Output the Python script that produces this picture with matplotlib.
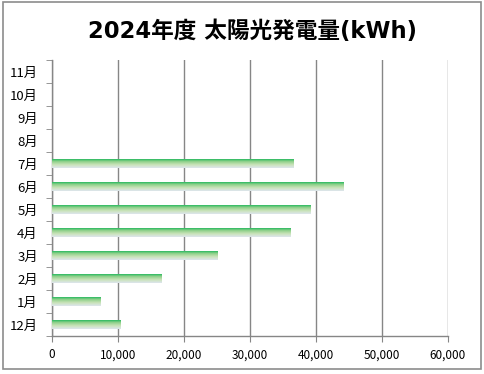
import numpy as np
import matplotlib
matplotlib.use("Agg")
import matplotlib.pyplot as plt
from matplotlib.colors import LinearSegmentedColormap
from matplotlib.patches import Rectangle
from matplotlib.ticker import FuncFormatter, FixedLocator

plt.rcParams["font.family"] = ["Noto Sans CJK JP", "DejaVu Sans"]

months = ["12月", "1月", "2月", "3月", "4月", "5月", "6月", "7月", "8月", "9月", "10月", "11月"]
kwh = [10340, 7310, 16550, 25130, 36180, 39110, 44060, 36490, 0, 0, 0, 0]
x_ticks = [0, 10000, 20000, 30000, 40000, 50000, 60000]

fig = plt.figure(figsize=(4.85, 3.74), dpi=100)
ax = fig.add_axes([51.7 / 485, 38 / 374, (448 - 51.7) / 485, (336 - 60) / 374])

# frame around the whole chart
fig.patches.append(Rectangle((3.5 / 485, 5 / 374), 477.5 / 485, 367 / 374,
                             transform=fig.transFigure, fill=False,
                             edgecolor="#8c8c8c", lw=1.2))

y = np.arange(len(months))
bars = ax.barh(y, kwh, height=0.42, color="none", edgecolor="none", zorder=3)

# vertical gradient inside each bar: green at top, pale at bottom
grad_cmap = LinearSegmentedColormap.from_list(
    "bar", ["#dde5ee", "#c9e3b8", "#8fd08a", "#00b050"])
grad = np.linspace(0, 1, 64).reshape(-1, 1)
for b in bars:
    if b.get_width() <= 0:
        continue
    x0, y0 = b.get_x(), b.get_y()
    im = ax.imshow(grad, cmap=grad_cmap, aspect="auto", origin="lower",
                   extent=(x0, x0 + b.get_width(), y0, y0 + b.get_height()),
                   zorder=3, interpolation="bilinear")
    im.set_clip_path(b)

ax.set_xlim(0, 60000)
ax.set_ylim(-0.5, len(months) - 0.5)

ax.xaxis.set_major_locator(FixedLocator(x_ticks))
ax.xaxis.set_major_formatter(FuncFormatter(lambda v, p: f"{int(v):,}"))
ax.set_yticks(y)
ax.set_yticklabels(months)
ax.yaxis.set_minor_locator(FixedLocator(np.arange(-0.5, len(months), 1)))
ax.tick_params(axis="y", which="major", length=0, labelsize=9.5, pad=10)
ax.tick_params(axis="y", which="minor", length=4, color="#868686", direction="out")
ax.tick_params(axis="x", length=4, color="#868686", labelsize=8.5, pad=5)

ax.grid(axis="x", color="#868686", lw=1, zorder=1)
for s in ["top", "right"]:
    ax.spines[s].set_visible(False)
for s in ["left", "bottom"]:
    ax.spines[s].set_color("#868686")
    ax.spines[s].set_linewidth(1)

fig.text(252 / 485, 1 - 31.5 / 374, "2024年度 太陽光発電量(kWh)", ha="center", va="center",
         fontsize=16.3, fontweight="bold", family=["DejaVu Sans", "Noto Sans CJK JP"])

fig.savefig("out.png", dpi=100)
